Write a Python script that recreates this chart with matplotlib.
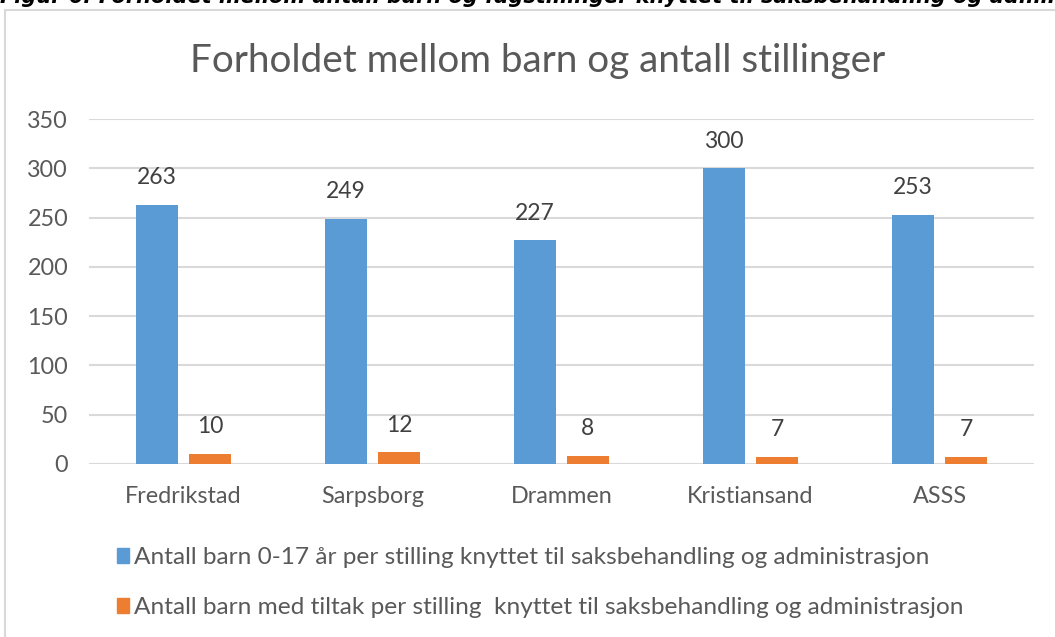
import matplotlib
matplotlib.use("Agg")
import matplotlib.pyplot as plt
from matplotlib.patches import Patch, Rectangle
import numpy as np

categories = ["Fredrikstad", "Sarpsborg", "Drammen", "Kristiansand", "ASSS"]
barn_0_17 = [263, 249, 227, 300, 253]
barn_tiltak = [10, 12, 8, 7, 7]
series_names = [
    "Antall barn 0-17 år per stilling knyttet til saksbehandling og administrasjon",
    "Antall barn med tiltak per stilling  knyttet til saksbehandling og administrasjon",
]
yticks = [0, 50, 100, 150, 200, 250, 300, 350]
title = "Forholdet mellom barn og antall stillinger"
caption = "Figur 6: Forholdet mellom antall barn og fagstillinger knyttet til saksbehandling og administrasjon"

BLUE = "#5B9BD5"
ORANGE = "#ED7D31"
GRAY = "#595959"
GRID = "#D9D9D9"

plt.rcParams["font.family"] = ["Lato", "DejaVu Sans"]

W, H = 1055, 637
fig = plt.figure(figsize=(W / 100, H / 100), dpi=100)

# chart border
fig.patches.append(Rectangle((5 / W, -0.1), 1.2, 1 - 10 / H + 0.1, transform=fig.transFigure,
                             fill=False, edgecolor="#D9D9D9", linewidth=1.5, zorder=0))

# caption clipped at top (as in the reference)
fig.text(0.0, 1 - 3 / H, caption, ha="left", va="baseline", fontsize=15,
         fontweight="bold", fontstyle="italic", color="black",
         family=["DejaVu Sans"])

ax = fig.add_axes([89 / W, 1 - 464 / H, (1034 - 89) / W, (464 - 119) / H])
x = np.arange(len(categories))
bw = 0.222
gap = 0.058
b1 = ax.bar(x - (bw + gap) / 2, barn_0_17, bw, color=BLUE, zorder=3)
b2 = ax.bar(x + (bw + gap) / 2, barn_tiltak, bw, color=ORANGE, zorder=3)
ax.bar_label(b1, padding=12, fontsize=16.5, color="#404040")
ax.bar_label(b2, padding=12, fontsize=16.5, color="#404040")

ax.set_xlim(-0.5, len(categories) - 0.5)
ax.set_ylim(0, 350)
ax.set_yticks(yticks)
ax.set_xticks(x)
ax.set_xticklabels(categories)
ax.tick_params(axis="both", length=0, labelsize=16.8, labelcolor=GRAY)
ax.tick_params(axis="x", pad=16)
ax.tick_params(axis="y", pad=15)
ax.grid(axis="y", color=GRID, linewidth=1.5, zorder=0)
for s in ax.spines.values():
    s.set_visible(False)

fig.text(538 / W, 1 - 61 / H, title, ha="center", va="center", fontsize=27.8, color=GRAY)

handles = [Patch(color=BLUE), Patch(color=ORANGE)]
fig.legend(handles, series_names, loc="upper left", bbox_to_anchor=(117 / W, 1 - 547 / H),
           frameon=False, fontsize=17.6, labelcolor=GRAY, handlelength=0.5, handleheight=0.55,
           handletextpad=0.2, labelspacing=1.2, borderaxespad=0, borderpad=0)

fig.savefig("out.png", dpi=100)
